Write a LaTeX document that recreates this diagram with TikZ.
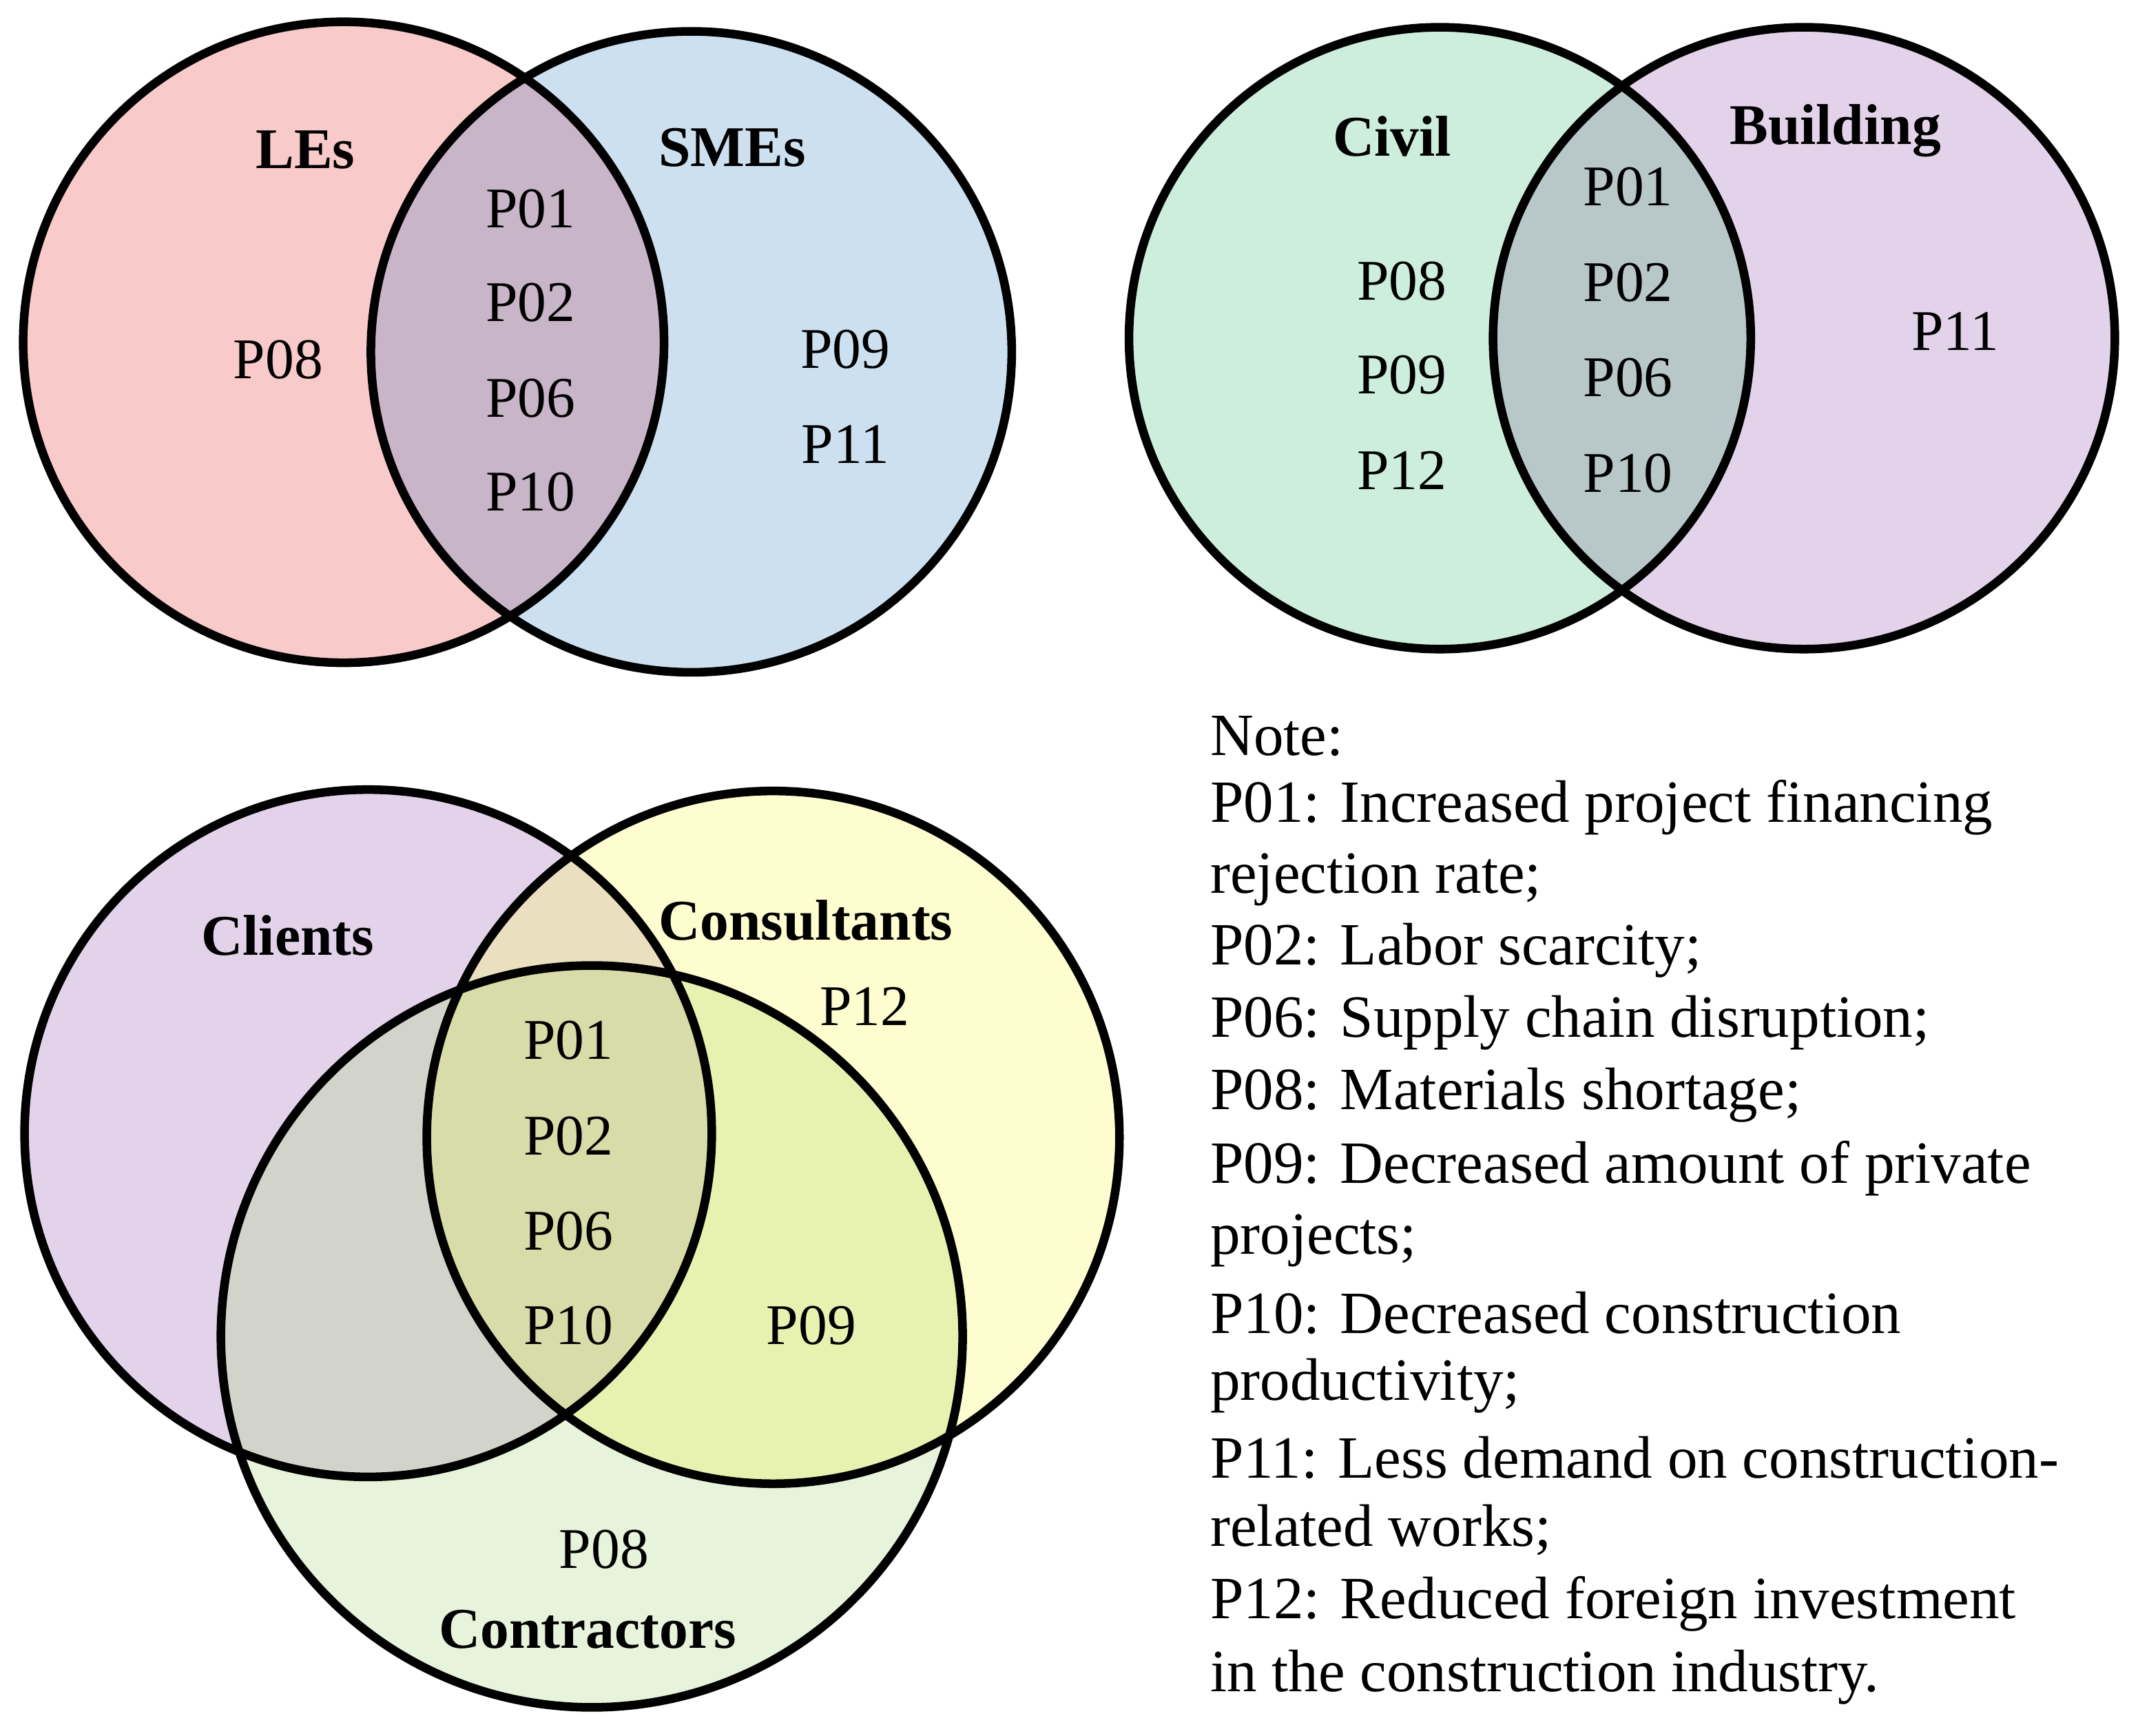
\documentclass[tikz,border=0pt]{standalone}
\usepackage{fontspec}
\setmainfont{Liberation Serif}
\begin{document}
\begin{tikzpicture}[x=0.01cm,y=-0.01cm,
  ring/.style={line width=1.8pt,draw=black},
  lab/.style={font=\fontsize{12}{14}\selectfont},
  hd/.style={font=\fontsize{12}{14}\selectfont\bfseries},
  note/.style={font=\fontsize{12.5}{15}\selectfont,anchor=west,inner sep=0pt}]
\useasboundingbox (0,0) rectangle (1568,1273);
\definecolor{les}{HTML}{F9CACA}\definecolor{sme}{HTML}{CCE0F0}\definecolor{ls}{HTML}{C9B5C8}
\definecolor{civ}{HTML}{CDEEDC}\definecolor{bld}{HTML}{E2D3EA}\definecolor{cb}{HTML}{B8C8C8}
\definecolor{cli}{HTML}{E2D3EA}\definecolor{con}{HTML}{FDFDCF}\definecolor{ctr}{HTML}{E7F3DA}
\definecolor{clco}{HTML}{EADFBF}\definecolor{clct}{HTML}{D2D4CB}\definecolor{coct}{HTML}{E8F2B0}\definecolor{all}{HTML}{D8DCA8}
% Venn 1
\fill[les] (252,251) circle (235);
\fill[sme] (507,258) circle (235);
\begin{scope}\clip (252,251) circle (235); \fill[ls] (507,258) circle (235);\end{scope}
\draw[ring] (252,251) circle (235);
\draw[ring] (507,258) circle (235);
% Venn 2
\fill[civ] (1056,248) circle (228);
\fill[bld] (1323,248) circle (228);
\begin{scope}\clip (1056,248) circle (228); \fill[cb] (1323,248) circle (228);\end{scope}
\draw[ring] (1056,248) circle (228);
\draw[ring] (1323,248) circle (228);
% Venn 3
\fill[cli] (270,831) circle (252);
\fill[con] (567,834) circle (254);
\fill[ctr] (434,980) circle (272);
\begin{scope}\clip (270,831) circle (252); \fill[clco] (567,834) circle (254);\end{scope}
\begin{scope}\clip (270,831) circle (252); \fill[clct] (434,980) circle (272);\end{scope}
\begin{scope}\clip (567,834) circle (254); \fill[coct] (434,980) circle (272);\end{scope}
\begin{scope}\clip (270,831) circle (252); \clip (567,834) circle (254); \fill[all] (434,980) circle (272);\end{scope}
\draw[ring] (270,831) circle (252);
\draw[ring] (567,834) circle (254);
\draw[ring] (434,980) circle (272);
% labels venn 1
\node[hd] (l1) at (224,110) {LEs};
\node[hd] (l2) at (537,108) {SMEs};
\node[lab] (a1) at (389,153) {P01};
\node[lab] (a2) at (389,222) {P02};
\node[lab] (a3) at (389,292) {P06};
\node[lab] (a4) at (389,361) {P10};
\node[lab] (a5) at (204,264) {P08};
\node[lab] (a6) at (620,256) {P09};
\node[lab] (a7) at (620,326) {P11};
% venn 2
\node[hd] (l3) at (1021,100) {Civil};
\node[hd] (l4) at (1346,96) {Building};
\node[lab] (b1) at (1194,137) {P01};
\node[lab] (b2) at (1194,207) {P02};
\node[lab] (b3) at (1194,277) {P06};
\node[lab] (b4) at (1194,347) {P10};
\node[lab] (b5) at (1028,206) {P08};
\node[lab] (b6) at (1028,275) {P09};
\node[lab] (b7) at (1028,345) {P12};
\node[lab] (b8) at (1434,243) {P11};
% venn 3
\node[hd] (l5) at (211,686) {Clients};
\node[hd] (l6) at (591,675) {Consultants};
\node[hd] (l7) at (431,1195) {Contractors};
\node[lab] (c1) at (417,763) {P01};
\node[lab] (c2) at (417,833) {P02};
\node[lab] (c3) at (417,903) {P06};
\node[lab] (c4) at (417,972) {P10};
\node[lab] (c5) at (634,738) {P12};
\node[lab] (c6) at (595,972) {P09};
\node[lab] (c7) at (443,1136) {P08};
% note
\node[note] (n0) at (887,540) {Note:};
\node[note] (n1) at (887,592) {P01: Increased project financing};
\node[note] (n2) at (887,645) {rejection rate;};
\node[note] (n3) at (887,697) {P02: Labor scarcity;};
\node[note] (n4) at (887,750) {P06: Supply chain disruption;};
\node[note] (n5) at (887,803) {P08: Materials shortage;};
\node[note] (n6) at (887,857) {P09: Decreased amount of private};
\node[note] (n7) at (887,910) {projects;};
\node[note] (n8) at (887,963) {P10: Decreased construction};
\node[note] (n9) at (887,1016) {productivity;};
\node[note] (n10) at (887,1069) {P11: Less demand on construction-};
\node[note] (n11) at (887,1122) {related works;};
\node[note] (n12) at (887,1176) {P12: Reduced foreign investment};
\node[note] (n13) at (887,1230) {in the construction industry.};
\end{tikzpicture}
\end{document}
